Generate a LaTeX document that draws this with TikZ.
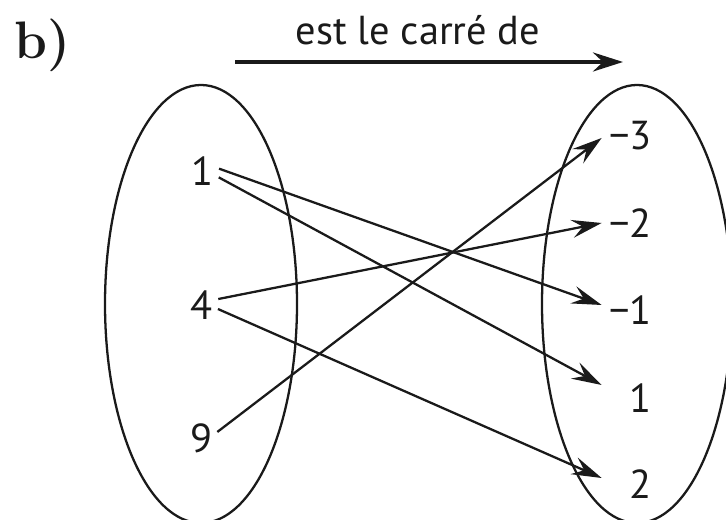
\documentclass[tikz,border=0pt]{standalone}
\usepackage{fontspec}
\setsansfont{PT Sans}
\usepackage{xcolor}
\usepackage{tikz}
\usetikzlibrary{arrows.meta}
\definecolor{inkBlack}{HTML}{1A1A1A}

\begin{document}
\begin{tikzpicture}[
    elt/.style={font=\sffamily\fontsize{23}{27}\selectfont, color=inkBlack, inner sep=0pt},
    img/.style={elt, text width=1cm, align=right},
    map/.style={-{Stealth[length=0.6cm, width=0.36cm, inset=0.22cm]}, line width=1.3pt, color=inkBlack, shorten <=0.1cm}]
  \useasboundingbox (0, 0) rectangle (14.52, 10.4);
  % the two sets
  \draw[line width=1.3pt, color=inkBlack] (4.02, 4.32) ellipse [x radius=1.92, y radius=4.38];
  \draw[line width=1.3pt, color=inkBlack] (12.74, 4.32) ellipse [x radius=1.9, y radius=4.38];
  % title and relation
  \node[font=\bfseries\fontsize{30}{36}\selectfont, color=inkBlack] (part) at (0.86, 9.5) {b)};
  \node[elt, anchor=base] (rel) at (8.36, 9.5) {est le carré de};
  \coordinate (relA) at (4.7, 9.16);
  \coordinate (relB) at (12.46, 9.16);
  \draw[-{Stealth[length=0.6cm, width=0.38cm, inset=0.2cm]}, line width=2.3pt, color=inkBlack] (relA) -- (relB);
  % left set
  \node[elt] (n1) at (4.06, 6.98) {1};
  \node[elt] (n4) at (4.04, 4.3) {4};
  \node[elt] (n9) at (4.04, 1.64) {9};
  % right set
  \node[img] (m3) at (12.54, 7.68) {−3};
  \node[img] (m2) at (12.54, 5.94) {−2};
  \node[img] (m1) at (12.54, 4.2) {−1};
  \node[img] (p1) at (12.54, 2.44) {1};
  \node[img] (p2) at (12.54, 0.72) {2};
  % the relation
  \draw[map] ([yshift=0.08cm]n1.east) -- ([yshift=0.1cm]m1.west);
  \draw[map] ([yshift=-0.08cm]n1.east) -- ([yshift=0.26cm]p1.west);
  \draw[map] ([yshift=0.1cm]n4.east) -- (m2.west);
  \draw[map] ([yshift=-0.04cm]n4.east) -- ([yshift=0.12cm]p2.west);
  \draw[map] ([yshift=0.06cm]n9.east) -- ([yshift=-0.04cm]m3.west);
\end{tikzpicture}
\end{document}
